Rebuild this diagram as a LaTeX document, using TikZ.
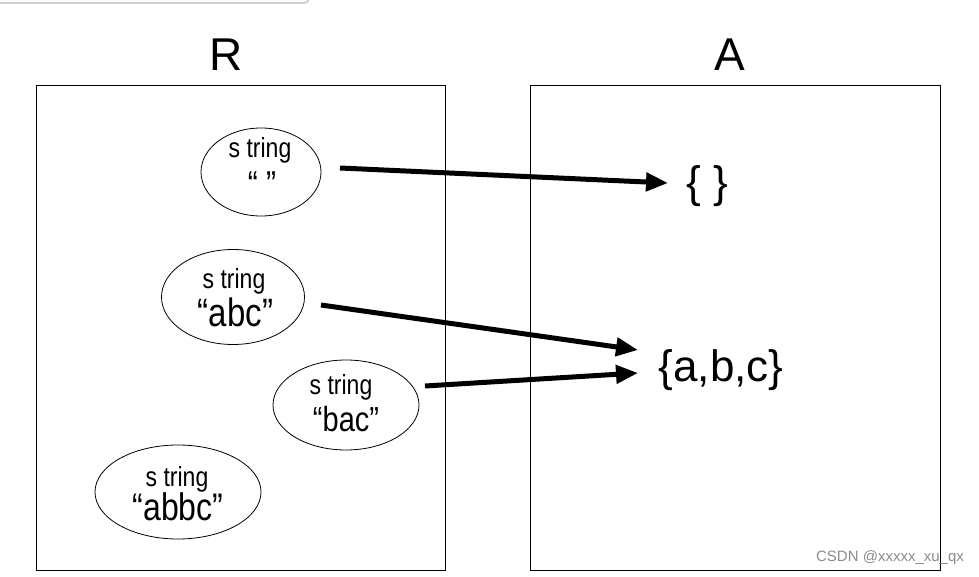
\documentclass[tikz,border=0pt]{standalone}
\usepackage{fontspec}
\setmainfont{Liberation Sans}
\usetikzlibrary{shapes.geometric,arrows.meta}
\newcommand{\tallish}[1]{\scalebox{1}[1.2]{#1}}
\begin{document}
\begin{tikzpicture}[x=1pt,y=-1pt,
  panel/.style={draw,line width=0.8pt},
  strnode/.style={draw,ellipse,line width=0.8pt,inner sep=0pt},
  small/.style={anchor=base,inner sep=0pt,font=\fontsize{23}{26}\selectfont},
  quoted/.style={anchor=base,inner sep=0pt,font=\fontsize{#1}{34}\selectfont},
  settext/.style={font=\fontsize{44}{50}\selectfont,inner sep=0pt},
  title/.style={font=\fontsize{46}{50}\selectfont,inner sep=0pt},
  maparrow/.style={line width=5pt,-{Triangle[length=22pt,width=18pt]}}]
\useasboundingbox (0,0) rectangle (979,577);
\fill[white] (0,0) rectangle (979,577);
% screenshot edge
\draw[line width=2pt,color=black!18] (0,3) -- (304,3) arc[start angle=90,end angle=0,radius=5];
% panels
\draw[panel] (36,85) rectangle (445,570);
\draw[panel] (530,85) rectangle (940,570);
\node[title] (tR) at (226,55) {R};
\node[title] (tA) at (730,55) {A};
% strings
\node[strnode,minimum width=120pt,minimum height=88pt] (s1) at (261,172) {};
\node[small] (s1a) at (260,158) {\tallish{s tring}};
\node[quoted=30] (s1b) at (262,197) {\tallish{“ ”}};
\node[strnode,minimum width=143pt,minimum height=95pt] (s2) at (233,297) {};
\node[small] (s2a) at (234,288) {\tallish{s tring}};
\node[quoted=33] (s2b) at (235.5,326) {\tallish{“abc”}};
\node[strnode,minimum width=146pt,minimum height=90pt] (s3) at (346,405) {};
\node[small] (s3a) at (341,394) {\tallish{s tring}};
\node[quoted=29] (s3b) at (346,431) {\tallish{“bac”}};
\node[strnode,minimum width=166pt,minimum height=94pt] (s4) at (178,492) {};
\node[small] (s4a) at (177,486) {\tallish{s tring}};
\node[quoted=32] (s4b) at (178,520) {\tallish{“abbc”}};
% sets
\node[settext] (e) at (707,186) {\{ \}};
\node[settext] (abc) at (721,370) {\{a,b,c\}};
% arrow ends
\coordinate (p1) at (340,168);
\coordinate (q1) at (668,183);
\coordinate (p2) at (321,305);
\coordinate (q2) at (638,350);
\coordinate (p3) at (425,386);
\coordinate (q3) at (638,373);
\draw[maparrow] (p1) -- (q1);
\draw[maparrow] (p2) -- (q2);
\draw[maparrow] (p3) -- (q3);
% watermark
\node[font=\fontsize{15}{17}\selectfont,color=black!45,inner sep=0pt] (wm) at (890,558) {CSDN @xxxxx\_xu\_qx};
\end{tikzpicture}
\end{document}
